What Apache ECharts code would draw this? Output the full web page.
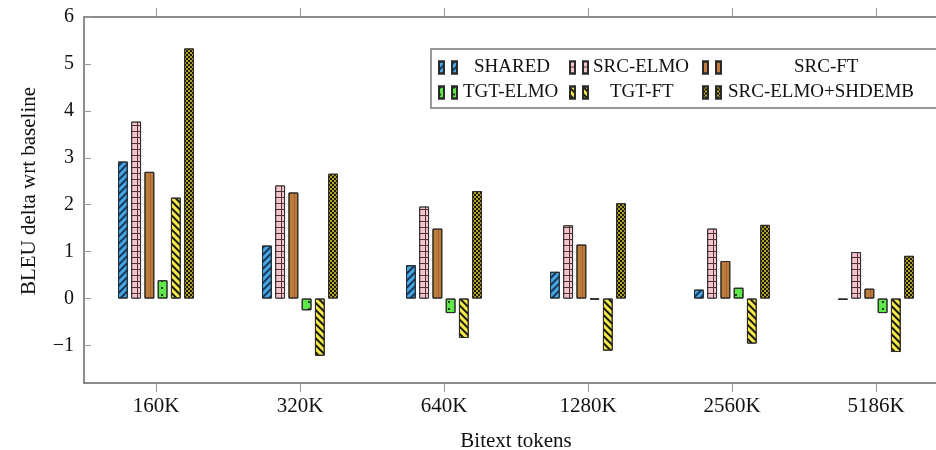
<!DOCTYPE html>
<html>
<head>
<meta charset="utf-8">
<script src="https://cdn.jsdelivr.net/npm/echarts@6/dist/echarts.min.js"></script>
<style>html,body{margin:0;padding:0;background:#fff;}#c{width:936px;height:450px;}</style>
</head>
<body>
<div id="c"></div>
<script>
const categories = ['160K', '320K', '640K', '1280K', '2560K', '5186K'];
const shared        = [2.92, 1.13, 0.71, 0.57, 0.19, -0.03];
const srcElmo       = [3.77, 2.41, 1.96, 1.56, 1.49, 0.99];
const srcFt         = [2.70, 2.26, 1.49, 1.15, 0.80, 0.21];
const tgtElmo       = [0.39, -0.25, -0.31, -0.02, 0.23, -0.31];
const tgtFt         = [2.15, -1.22, -0.84, -1.11, -0.96, -1.14];
const srcElmoShdemb = [5.33, 2.66, 2.29, 2.03, 1.57, 0.91];
const yTicks = [-1, 0, 1, 2, 3, 4, 5, 6];
const seriesNames = ['SHARED', 'SRC-ELMO', 'SRC-FT', 'TGT-ELMO', 'TGT-FT', 'SRC-ELMO+SHDEMB'];

const FONT = 'Liberation Serif';
const styles = [
  { color: '#45a5e6', decal: { symbol: 'rect', color: '#16385a', dashArrayX: [1, 0], dashArrayY: [1.3, 2.6], symbolSize: 1, rotation: -Math.PI / 4 } },
  { color: '#4a3438', decal: { symbol: 'rect', color: '#f7c6cc', dashArrayX: [4.2, 0.9], dashArrayY: [4.8, 1], symbolSize: 1 } },
  { color: '#bf7a3c', decal: { symbol: 'rect', color: '#a3662f', dashArrayX: [0.8, 4.5], dashArrayY: [1, 0], symbolSize: 1 } },
  { color: '#5ee84a', decal: { symbol: 'rect', color: '#1a3a10', dashArrayX: [1.5, 4.5], dashArrayY: [1.5, 4.5], symbolSize: 1 } },
  { color: '#f3e84c', decal: { symbol: 'rect', color: '#1a1a08', dashArrayX: [1, 0], dashArrayY: [2, 2.8], symbolSize: 1, rotation: Math.PI / 4 } },
  { color: '#1e1c08', decal: { symbol: 'rect', color: '#b0a02c', dashArrayX: [[2, 2], [0, 2, 2, 0]], dashArrayY: [2, 0], symbolSize: 1 } }
];
const datasets = [shared, srcElmo, srcFt, tgtElmo, tgtFt, srcElmoShdemb];

const series = seriesNames.map((n, i) => ({
  name: n,
  type: 'bar',
  xAxisIndex: 0,
  data: datasets[i],
  barWidth: 9.8,
  barGap: '35%',
  itemStyle: { color: styles[i].color, decal: styles[i].decal, borderColor: '#2a2a2a', borderWidth: 1 },
  emphasis: { disabled: true }
}));

const ICON = 'path://M0,0h5v12h-5zM13,0h5v12h-5z';
// [left, top, textPadLeft]
const legendPos = [
  [438, 58, 12], [569, 58, 0], [702, 58, 68],
  [438, 83, 1], [569, 83, 17], [702, 83, 2]
];
const legends = seriesNames.map((n, i) => ({
  data: [n],
  left: legendPos[i][0],
  top: legendPos[i][1],
  padding: 0,
  icon: ICON,
  itemWidth: 18,
  itemHeight: 12,
  selectedMode: false,
  textStyle: { fontFamily: FONT, fontSize: 19, color: '#111', padding: [0, 0, 0, legendPos[i][2]] }
}));

const tickStyle = { color: '#9a9a9a', width: 1 };

const chart = echarts.init(document.getElementById('c'), null, { renderer: 'canvas' });
chart.setOption({
  animation: false,
  backgroundColor: '#fff',
  grid: { left: 84, top: 17, right: -12, bottom: 67, containLabel: false, outerBoundsMode: 'none' },
  legend: legends,
  graphic: [{
    type: 'rect', z: 3, silent: true,
    shape: { x: 431, y: 49, width: 520, height: 59 },
    style: { fill: '#fff', stroke: '#777', lineWidth: 1.5 }
  }],
  xAxis: [{
    type: 'category',
    data: categories,
    position: 'bottom',
    boundaryGap: true,
    name: 'Bitext tokens',
    nameLocation: 'middle',
    nameGap: 48,
    nameTextStyle: { fontFamily: FONT, fontSize: 21, color: '#111' },
    axisLine: { onZero: false, lineStyle: { color: '#666', width: 1.5 } },
    axisTick: { show: true, alignWithLabel: true, inside: false, length: 9, lineStyle: tickStyle },
    axisLabel: { fontFamily: FONT, fontSize: 21, color: '#111', margin: 13 },
    splitLine: { show: false }
  }, {
    type: 'category',
    data: categories,
    position: 'top',
    boundaryGap: true,
    axisLine: { show: true, onZero: false, lineStyle: { color: '#666', width: 1.5 } },
    axisTick: { show: true, alignWithLabel: true, inside: false, length: 9, lineStyle: tickStyle },
    axisLabel: { show: false },
    splitLine: { show: false }
  }],
  yAxis: {
    type: 'value',
    min: -1.8,
    max: 6,
    name: 'BLEU delta wrt baseline',
    nameLocation: 'middle',
    nameGap: 44,
    nameTextStyle: { fontFamily: FONT, fontSize: 21, color: '#111', padding: [0, 0, 0, 18] },
    axisLine: { show: true, onZero: false, lineStyle: { color: '#666', width: 1.5 } },
    axisTick: { show: true, inside: true, length: 7, customValues: yTicks, lineStyle: tickStyle },
    axisLabel: { fontFamily: FONT, fontSize: 20, color: '#111', margin: 10, customValues: yTicks,
      formatter: v => String(v).replace('-', '\u2212') },
    splitLine: { show: false }
  },
  series: series
});
</script>
</body>
</html>
